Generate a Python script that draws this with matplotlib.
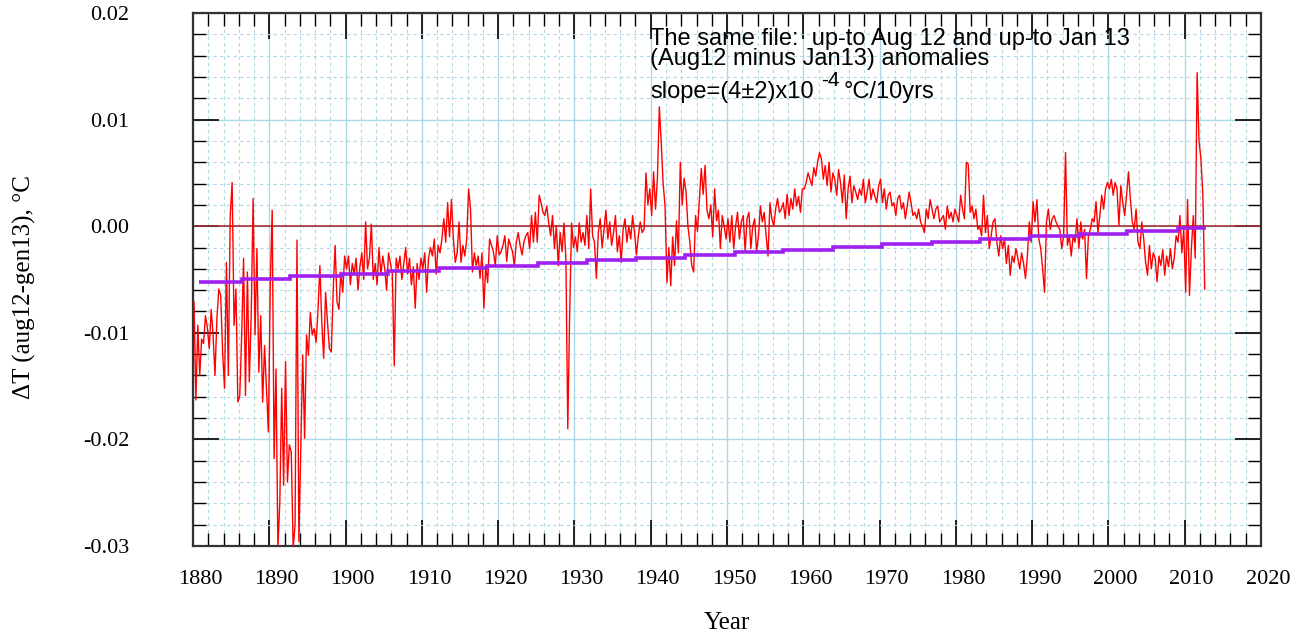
import numpy as np
import matplotlib
matplotlib.use("Agg")
import matplotlib.pyplot as plt
import matplotlib.transforms as mtransforms
from matplotlib.ticker import MultipleLocator, FormatStrFormatter

plt.rcParams["axes.unicode_minus"] = False

# monthly differences, 4 values per year, units of 1e-4 degC
dT_1880s = [-71, -163, -93, -140, -106, -110, -84, -95, -115, -78, -102, -140,
            -87, -59, -65, -118, -152, -34, -140, 10, 41, -93, -59, -165,
            -159, -102, -30, -159, -43, -146, -84, 26, -102, -21, -137, -84,
            -165, -112, -152, -193]
dT_1890s = [-55, 15, -218, -134, -302, -259, -152, -243, -127, -240, -205, -212,
            -302, -280, -13, -296, -209, -121, -199, -102, -121, -81, -102, -96,
            -109, -80, -37, -90, -124, -62, -90, -115, -118, -60, -18, -71,
            -78, -43, -62, -28]
dT_1900s = [-40, -28, -55, -35, -45, -30, -60, -38, -25, -50, 4, -40,
            -30, 2, -50, -35, -55, -20, -45, -28, -40, -60, -25, -35,
            -45, -131, -30, -40, -28, -50, -35, -20, -45, -30, -55, -38,
            -77, -35, -50, -30]
dT_1910s = [-40, -25, -62, -30, -20, -28, -12, -45, -18, -25, -12, 7,
            -15, 22, -10, 25, -12, -34, -25, 4, -34, -18, -28, -12,
            35, 16, -43, -25, -37, -28, -49, -25, -77, -37, -53, -12,
            -18, -24, -37, -9]
dT_1920s = [-27, -24, -18, -9, -33, -12, -18, -24, -37, -15, -6, -18,
            -27, -15, -9, -6, -21, 10, -15, 13, -15, 29, 22, 13,
            10, 19, 3, -9, 10, -21, 0, -37, -6, -24, 3, -30,
            -190, -81, 3, -20]
dT_1930s = [-10, -24, 3, -15, -6, -18, 10, -21, 35, -9, -15, -49,
            -6, 7, -20, -3, 15, -12, 4, -18, -6, 10, -24, -9,
            -34, -3, 7, -15, 0, -12, 10, -6, -27, -9, 4, -6,
            -3, 50, 20, 35]
dT_1940s = [10, 51, 16, 45, 112, 79, 40, 19, -53, -20, -56, -10,
            -37, 5, -25, 60, 20, 45, 32, 0, -15, -37, -43, 10,
            -5, 25, 54, 30, 57, 15, 7, 20, -10, 35, 5, 15,
            -21, 10, 0, -12]
dT_1950s = [7, -15, 10, -21, 0, 13, -12, 4, 10, -24, 7, 13,
            -21, 0, 7, -24, -9, 19, 4, 13, -9, -28, 22, 7,
            0, 16, 26, 13, 16, 22, 7, 30, 10, 26, 16, 35,
            19, 28, 13, 35]
dT_1960s = [35, 41, 50, 44, 38, 55, 47, 60, 69, 63, 44, 57,
            38, 60, 32, 50, 44, 29, 53, 41, 22, 48, 7, 35,
            47, 22, 38, 32, 25, 35, 29, 44, 22, 32, 44, 25,
            35, 28, 22, 38]
dT_1970s = [44, 22, 35, 16, 29, 32, 19, 22, 10, 26, 29, 16,
            22, 7, 19, 32, 22, 10, 13, 7, 16, 4, 0, -6,
            16, 7, 25, 16, 7, 16, 19, 4, 7, 10, -3, 19,
            7, 13, 4, 16]
dT_1980s = [10, 4, 29, 16, 7, 60, 58, 13, 19, 7, 16, -3,
            0, -9, 29, -6, 10, -21, -9, 4, 7, -15, -28, -9,
            -21, -12, -35, -18, -46, -28, -34, -21, -30, -40, -25, -35,
            -49, -28, 4, -15]
dT_1990s = [23, 4, 25, -12, -21, -40, -62, 4, 16, -3, 7, 10,
            4, 0, -3, -21, -9, 69, -18, -9, -28, -9, -15, 7,
            -21, 4, -12, -3, -49, -9, -3, 7, 4, 23, -6, 10,
            29, 16, 35, 41]
dT_2000s = [35, 44, 29, 41, 35, 1, 38, 22, 10, 29, 51, 26,
            4, -3, 16, -15, -21, 4, -12, -34, -46, -18, -40, -25,
            -30, -52, -28, -37, -22, -46, -28, -38, -21, -40, -30, -9,
            -15, 10, -25, -3]
dT_2010s = [-62, 25, -65, -21, 10, -30, 144, 80, 63, 30, -59]

# fitted trend, drawn as steps: edges in years, levels in 1e-4 degC
step_edges = [1880.8, 1886.4, 1892.7, 1899.4, 1905.6, 1912.2, 1918.5, 1925.2,
              1931.6, 1938.1, 1944.5, 1951.0, 1957.3, 1963.9, 1970.3, 1976.9,
              1983.2, 1989.7, 1996.3, 2002.5, 2009.1, 2012.8]
step_levels = [-52, -49.5, -47, -44.5, -42, -39.5, -37, -34.5, -32, -29.5,
               -27, -24.5, -22, -19.5, -17, -14.5, -12, -9.5, -7, -4.5, -2]

dT = np.concatenate([dT_1880s, dT_1890s, dT_1900s, dT_1910s, dT_1920s,
                     dT_1930s, dT_1940s, dT_1950s, dT_1960s, dT_1970s,
                     dT_1980s, dT_1990s, dT_2000s, dT_2010s]) * 1e-4
years = 1880.125 + np.arange(len(dT)) * 0.25

fig = plt.figure(figsize=(13.07, 6.37), dpi=100)
ax = fig.add_axes([0.1477, 0.1429, 0.8171, 0.8367])

ax.axhline(0.0, color="#a83232", lw=1.2, zorder=2)
ax.plot(years, dT, color="red", lw=1.0, zorder=3)
ax.stairs(np.array(step_levels) * 1e-4, step_edges, baseline=None,
          color="#a020f0", lw=2.6, zorder=4)

ax.set_xlim(1880, 2020)
ax.set_ylim(-0.03, 0.02)
ax.xaxis.set_major_locator(MultipleLocator(10))
ax.xaxis.set_minor_locator(MultipleLocator(2))
ax.yaxis.set_major_locator(MultipleLocator(0.01))
ax.yaxis.set_minor_locator(MultipleLocator(0.002))
ax.yaxis.set_major_formatter(FormatStrFormatter("%.2f"))

ax.set_axisbelow(True)
ax.grid(which="major", color="#add8e6", lw=1.0, ls="-")
ax.grid(which="minor", color="#add8e6", lw=0.8, ls=(0, (3, 3)))

ax.tick_params(which="both", direction="in", top=True, right=True,
               color="black")
ax.tick_params(which="major", length=19, width=1.2)
ax.tick_params(which="minor", length=9.5, width=1.0)
ax.tick_params(axis="x", which="major", pad=17)
ax.tick_params(axis="y", which="major", pad=46)

# year labels sit a little right of their ticks in the original
shift = mtransforms.ScaledTranslation(7 / 100, 0, fig.dpi_scale_trans)
for lab in ax.get_xticklabels():
    lab.set_transform(lab.get_transform() + shift)
for lab in ax.get_xticklabels() + ax.get_yticklabels():
    lab.set_fontfamily("Liberation Serif")
    lab.set_fontsize(16)
for sp in ax.spines.values():
    sp.set_linewidth(1.6)
    sp.set_color("#333333")

ax.set_xlabel("Year", family="Liberation Serif", fontsize=18, labelpad=17)
ax.set_ylabel("\u0394T (aug12-gen13), \u00b0C", family="Liberation Serif",
              fontsize=18)
ax.yaxis.set_label_coords(-0.147, 0.486)

sans = "Liberation Sans"
fs = 17
ax.text(1939.9, 0.0176, "The same file:  up-to Aug 12 and up-to Jan 13",
        family=sans, fontsize=fs, va="center")
ax.text(1939.9, 0.0157, "(Aug12 minus Jan13) anomalies",
        family=sans, fontsize=fs, va="center")
ax.text(1939.9, 0.0126, "slope=(4\u00b12)x10", family=sans, fontsize=fs,
        va="center")
ax.text(1962.4, 0.0137, "-4", family=sans, fontsize=15, va="center")
ax.text(1965.3, 0.0126, "\u00b0C/10yrs", family=sans, fontsize=fs,
        va="center")

fig.savefig("out.png", dpi=100)
